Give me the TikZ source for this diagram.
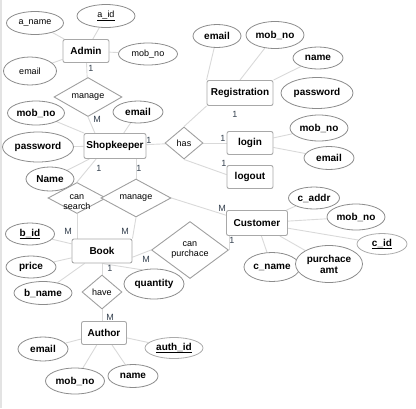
\documentclass[tikz,border=0pt]{standalone}
\usepackage{fontspec}
\setmainfont{Liberation Sans}
\usetikzlibrary{shapes.geometric,calc,backgrounds}
\definecolor{boxline}{HTML}{A8A8A8}
\definecolor{attrline}{HTML}{8C8C8C}
\definecolor{keyline}{HTML}{ABABAB}
\definecolor{relline}{HTML}{A0A0A0}
\definecolor{connline}{HTML}{D9D9D9}
\definecolor{cardtext}{HTML}{34404E}
\definecolor{edgestrip}{HTML}{E3E3E3}
\begin{document}
\begin{tikzpicture}[x=1pt,y=-1pt,
  ent/.style={draw=boxline, fill=white, rounded corners=2pt, inner sep=0pt, line width=0.9pt,
    font=\fontsize{10}{12}\selectfont\bfseries},
  attr/.style={ellipse, draw=attrline, fill=white, inner sep=0pt, line width=0.8pt, align=center,
    font=\fontsize{10}{11}\selectfont\bfseries},
  plainattr/.style={attr, font=\fontsize{9}{11}\selectfont},
  keyattr/.style={attr, draw=keyline},
  rel/.style={diamond, draw=relline, fill=white, inner sep=0pt, line width=0.9pt},
  reltext/.style={font=\fontsize{9}{10}\selectfont, align=center, inner sep=0pt},
  card/.style={font=\fontsize{9}{10}\selectfont, text=cardtext, inner sep=0pt},
  conn/.style={draw=connline, line width=0.9pt}
]
\useasboundingbox (0,0) rectangle (416,408);
\fill[edgestrip] (0,0) rectangle (2,408);

% entities
\node[ent, minimum width=46, minimum height=23] (admin)  at (86,51)   {Admin};
\node[ent, minimum width=66, minimum height=25] (reg)    at (240,93)  {Registration};
\node[ent, minimum width=62, minimum height=25] (shop)   at (115,146) {Shopkeeper};
\node[ent, minimum width=46, minimum height=23] (login)  at (250,143) {login};
\node[ent, minimum width=46, minimum height=23] (logout) at (250,177) {logout};
\node[ent, minimum width=61, minimum height=25] (cust)   at (257,223) {Customer};
\node[ent, minimum width=60, minimum height=24] (book)   at (102,251) {Book};
\node[ent, minimum width=45, minimum height=23] (author) at (104,333) {Author};

% relationships
\node[rel, minimum width=68, minimum height=39, label={[reltext]center:manage}] (mg1) at (88,97) {};
\node[rel, minimum width=38, minimum height=32, label={[reltext]center:has}] (has) at (184,143) {};
\node[rel, minimum width=58, minimum height=31, label={[reltext,yshift=-4pt]center:{can\\search}}] (cs) at (77,198) {};
\node[rel, minimum width=70, minimum height=38, label={[reltext]center:manage}] (mg2) at (136,198) {};
\node[rel, minimum width=77, minimum height=57, label={[reltext]center:{can\\purchace}}] (cp) at (190,250) {};
\node[rel, minimum width=40, minimum height=34, label={[reltext]center:have}] (have) at (102,292) {};

% attributes of Admin
\node[plainattr, minimum width=57, minimum height=23] (aname)  at (35,23)  {a\_name};
\node[plainattr, minimum width=58, minimum height=23] (aid)    at (106,16) {\underline{a\_id}};
\node[plainattr, minimum width=59, minimum height=22] (amob)   at (148,54) {mob\_no};
\node[plainattr, minimum width=53, minimum height=28] (aemail) at (30,71)  {email};

% attributes of Shopkeeper
\node[attr, minimum width=57, minimum height=24] (smob)   at (36,113)  {mob\_no};
\node[attr, minimum width=50, minimum height=22] (semail) at (138,112) {email};
\node[attr, minimum width=71, minimum height=30] (spass)  at (38,147)  {password};
\node[attr, minimum width=48, minimum height=24] (sname)  at (50,179)  {Name};

% attributes of Registration
\node[attr, minimum width=48, minimum height=23] (remail) at (217,36)  {email};
\node[attr, minimum width=58, minimum height=27] (rmob)   at (275,35)  {mob\_no};
\node[attr, minimum width=50, minimum height=22] (rname)  at (318,58)  {name};
\node[attr, minimum width=72, minimum height=31] (rpass)  at (317,93)  {password};

% attributes of login
\node[attr, minimum width=58, minimum height=26] (lmob)   at (319,128) {mob\_no};
\node[attr, minimum width=50, minimum height=23] (lemail) at (329,158) {email};

% attributes of Customer
\node[attr, minimum width=51, minimum height=22] (caddr) at (314,198) {c\_addr};
\node[attr, minimum width=58, minimum height=26] (cmob)  at (356,217) {mob\_no};
\node[keyattr, minimum width=50, minimum height=21] (cid) at (382,244) {\underline{c\_id}};
\node[attr, minimum width=56, minimum height=29] (cname) at (272,267) {c\_name};
\node[attr, minimum width=67, minimum height=37] (camt)  at (329,264) {purchace\\amt};

% attributes of Book
\node[attr, minimum width=49, minimum height=22] (bid)   at (30,234)  {\underline{b\_id}};
\node[attr, minimum width=50, minimum height=22] (price) at (31,267)  {price};
\node[attr, minimum width=58, minimum height=23] (bname) at (43,293)  {b\_name};
\node[attr, minimum width=60, minimum height=30] (qty)   at (154,284) {quantity};

% attributes of Author
\node[attr, minimum width=50, minimum height=24] (auemail) at (43,349)  {email};
\node[attr, minimum width=59, minimum height=26] (aumob)   at (75,381)  {mob\_no};
\node[attr, minimum width=50, minimum height=23] (auname)  at (133,376) {name};
\node[keyattr, minimum width=58, minimum height=21] (auid) at (174,348) {\underline{auth\_id}};

% cardinalities
\node[card] (k1)  at (91,68)   {1};
\node[card] (k2)  at (97,119)  {M};
\node[card] (k3)  at (149,140) {1};
\node[card] (k4)  at (235,114) {1};
\node[card] (k5)  at (223,138) {1};
\node[card] (k6)  at (224,163) {1};
\node[card] (k7)  at (99,168)  {1};
\node[card] (k8)  at (139,168) {1};
\node[card] (k9)  at (68,231)  {M};
\node[card] (k10) at (125,231) {M};
\node[card] (k11) at (222,208) {M};
\node[card] (k12) at (232,240) {1};
\node[card] (k13) at (146,259) {M};
\node[card] (k14) at (110,268) {1};
\node[card] (k15) at (110,317) {M};

\begin{scope}[on background layer]
  % Admin
  \draw[conn] (admin) -- (aname);
  \draw[conn] (admin) -- (aid);
  \draw[conn] (admin) -- (amob);
  \draw[conn] (admin) -- (aemail);
  \draw[conn] (admin) -- (mg1);
  \draw[conn] (mg1.south) -- ($(shop.north west)!0.18!(shop.north east)$);
  % Shopkeeper
  \draw[conn] (shop) -- (smob);
  \draw[conn] (shop) -- (semail);
  \draw[conn] (shop) -- (spass);
  \draw[conn] (shop) -- (sname);
  \draw[conn] (shop) -- (has);
  \draw[conn] (has.north) -- (reg.south west);
  \draw[conn] (has) -- (login);
  \draw[conn] (has.south) -- ($(logout.north west)!0.4!(logout.south west)$);
  \draw[conn] (cs.north) -- ($(shop.south west)!0.2!(shop.south east)$);
  \draw[conn] (mg2.north) -- (mg2.north |- shop.south);
  % Registration and login
  \draw[conn] (reg.north west) -- (remail);
  \draw[conn] (reg.north) -- (rmob);
  \draw[conn] (reg.north east) -- (rname);
  \draw[conn] (login) -- (lmob);
  \draw[conn] (login) -- (lemail);
  % Book
  \draw[conn] (cs.south) -- (cs.south |- book.north);
  \draw[conn] (mg2.south) -- (book.north east);
  \draw[conn] (mg2.east) -- ($(cust.north west)!0.2!(cust.south west)$);
  \draw[conn] (cp.east) -- (cp.east |- cust.south);
  \draw[conn] (cp.west) -- ($(book.north east)!0.75!(book.south east)$);
  \draw[conn] (book) -- (bid);
  \draw[conn] (book) -- (price);
  \draw[conn] (book) -- (bname);
  \draw[conn] (book.south) -- (qty.130);
  \draw[conn] (book.south) -- (have.north);
  \draw[conn] (have.south) -- (have.south |- author.north);
  % Customer
  \draw[conn] (cust) -- (caddr);
  \draw[conn] (cust) -- (cmob);
  \draw[conn] (cust) -- (cid);
  \draw[conn] (cust) -- (cname);
  \draw[conn] (cust) -- (camt);
  % Author
  \draw[conn] (author) -- (auemail);
  \draw[conn] (author) -- (aumob);
  \draw[conn] (author) -- (auname);
  \draw[conn] (author) -- (auid);
\end{scope}
\end{tikzpicture}
\end{document}
